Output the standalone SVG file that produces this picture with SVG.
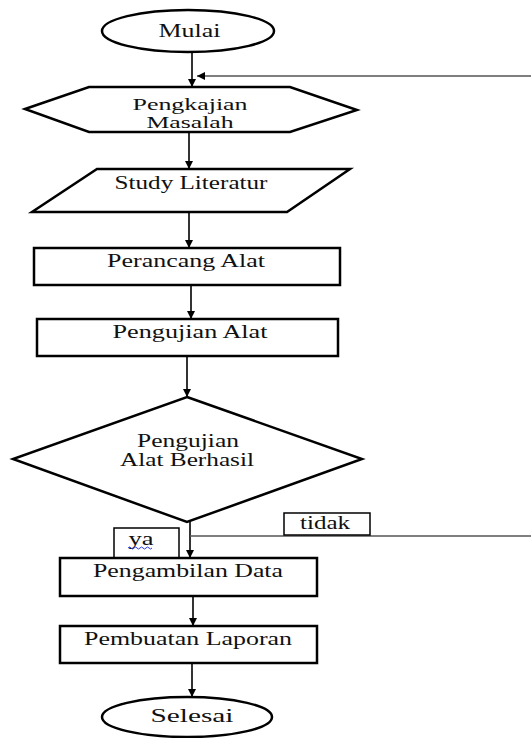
<svg xmlns="http://www.w3.org/2000/svg" width="531" height="738" viewBox="0 0 531 738">
<style>
.s{fill:#fff;stroke:#000;stroke-width:2.5}
.t{font-family:"Liberation Serif","DejaVu Serif",serif;font-size:18px;fill:#111;text-anchor:middle}
.t2{font-size:16px}
.c{fill:none;stroke:#000;stroke-width:1.6}
.g{fill:none;stroke:#555;stroke-width:1.6}
.lb{fill:#fff;stroke:#000;stroke-width:1.5}
</style>
<defs>
<marker id="ah" viewBox="0 0 10 10" refX="10" refY="5" markerWidth="5" markerHeight="5" orient="auto" markerUnits="strokeWidth">
<path d="M0,0 L10,5 L0,10 z" fill="#000"/>
</marker>
</defs>
<rect width="531" height="738" fill="#fff"/>
<g id="connectors">
<line class="c" x1="192" y1="53" x2="192" y2="87" marker-end="url(#ah)"/>
<line class="g" x1="531" y1="76" x2="197" y2="76" marker-end="url(#ah)"/>
<line class="c" x1="189" y1="133" x2="189" y2="169" marker-end="url(#ah)"/>
<line class="c" x1="189" y1="213" x2="189" y2="248" marker-end="url(#ah)"/>
<line class="c" x1="191" y1="286" x2="191" y2="319" marker-end="url(#ah)"/>
<line class="c" x1="187" y1="357" x2="187" y2="397" marker-end="url(#ah)"/>
<line class="c" x1="190" y1="522" x2="190" y2="558" marker-end="url(#ah)"/>
<line class="g" x1="190" y1="536" x2="531" y2="536"/>
<line class="c" x1="193" y1="597" x2="193" y2="626" marker-end="url(#ah)"/>
<line class="c" x1="192" y1="664" x2="192" y2="697" marker-end="url(#ah)"/>
</g>
<g id="mulai">
<ellipse class="s" cx="188" cy="31" rx="86" ry="21"/>
<text class="t" x="189.5" y="37" textLength="62" lengthAdjust="spacingAndGlyphs">Mulai</text>
</g>
<g id="pengkajian">
<polygon class="s" points="25,109 89,87 290,87 357,110 290,132 89,132"/>
<text class="t t2" x="190" y="110" textLength="115" lengthAdjust="spacingAndGlyphs">Pengkajian</text>
<text class="t t2" x="190" y="128" textLength="87" lengthAdjust="spacingAndGlyphs">Masalah</text>
</g>
<g id="study">
<polygon class="s" points="97,169 350,169 287,212 32,212"/>
<text class="t" x="191" y="189" textLength="153" lengthAdjust="spacingAndGlyphs">Study Literatur</text>
</g>
<g id="perancang">
<rect class="s" x="34" y="248" width="306" height="37"/>
<text class="t" x="186" y="267" textLength="158" lengthAdjust="spacingAndGlyphs">Perancang Alat</text>
</g>
<g id="pengujian">
<rect class="s" x="37" y="319" width="301" height="37"/>
<text class="t" x="190" y="338" textLength="155" lengthAdjust="spacingAndGlyphs">Pengujian Alat</text>
</g>
<g id="keputusan">
<polygon class="s" points="187,397 362,459 187,522 13,459"/>
<text class="t" x="188" y="447" textLength="102" lengthAdjust="spacingAndGlyphs">Pengujian</text>
<text class="t" x="187" y="466" textLength="134" lengthAdjust="spacingAndGlyphs">Alat Berhasil</text>
</g>
<g id="label-tidak">
<rect class="lb" x="284" y="513" width="86" height="22"/>
<text class="t" x="325" y="529" textLength="50" lengthAdjust="spacingAndGlyphs">tidak</text>
</g>
<g id="label-ya">
<rect class="lb" x="114" y="528" width="65" height="31"/>
<text class="t" x="141" y="545" textLength="25" lengthAdjust="spacingAndGlyphs" fill="#112">ya</text>
<path d="M128,548 q1.5,-2 3,0 t3,0 t3,0 t3,0 t3,0 t3,0 t3,0 t3,0" fill="none" stroke="#2a3be0" stroke-width="1"/>
</g>
<g id="pengambilan">
<rect class="s" x="60" y="558" width="257" height="38"/>
<text class="t" x="188" y="577" textLength="190" lengthAdjust="spacingAndGlyphs">Pengambilan Data</text>
</g>
<g id="pembuatan">
<rect class="s" x="60" y="626" width="257" height="37"/>
<text class="t" x="188" y="645" textLength="208" lengthAdjust="spacingAndGlyphs">Pembuatan Laporan</text>
</g>
<g id="selesai">
<ellipse class="s" cx="187" cy="717" rx="85" ry="20"/>
<text class="t" x="192" y="722" textLength="83" lengthAdjust="spacingAndGlyphs">Selesai</text>
</g>
</svg>
